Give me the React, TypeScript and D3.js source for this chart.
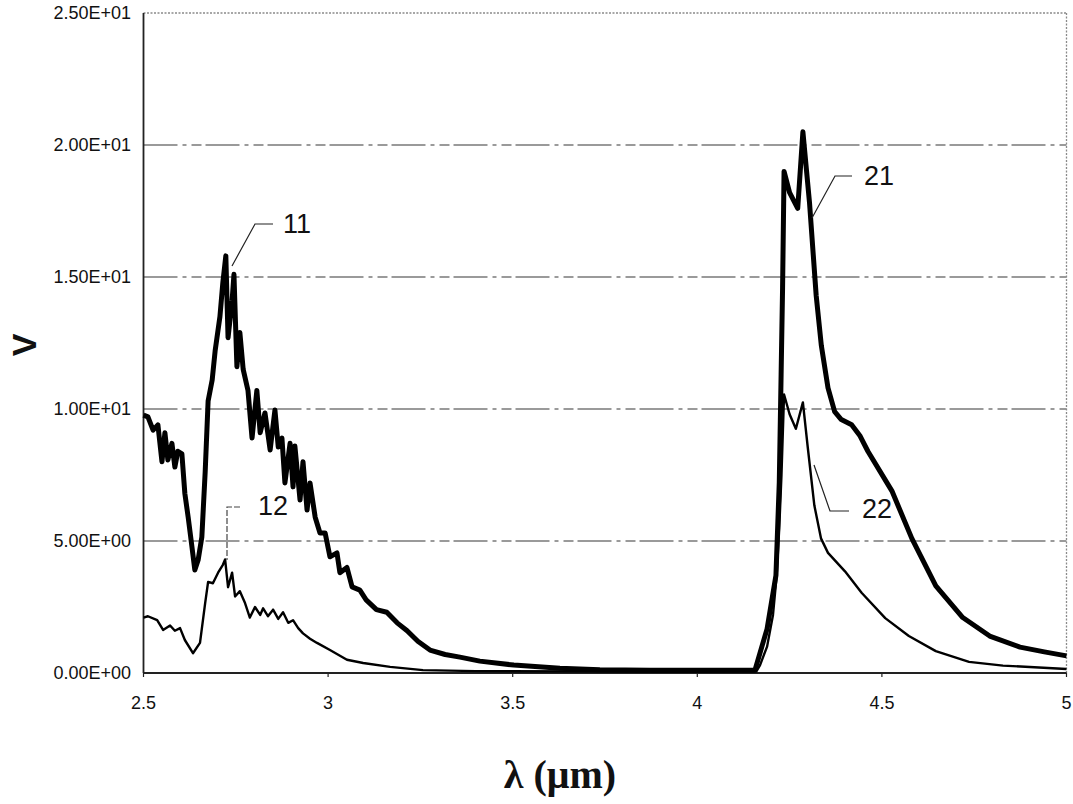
import React from "react";
import * as d3 from "d3";

const W = 1073;
const H = 804;

// thick curve (labels 11 and 21)
const thickX = [
  2.5, 2.512, 2.526, 2.539, 2.55, 2.558, 2.566, 2.577, 2.585, 2.593, 2.604, 2.612, 2.621, 2.631, 2.639,
  2.648, 2.658, 2.667, 2.675, 2.686, 2.694, 2.707, 2.715, 2.723, 2.729, 2.74, 2.745, 2.753, 2.761, 2.77,
  2.783, 2.794, 2.807, 2.816, 2.829, 2.843, 2.856, 2.865, 2.875, 2.883, 2.897, 2.905, 2.91, 2.924, 2.932,
  2.943, 2.951, 2.965, 2.978, 2.992, 3.005, 3.024, 3.032, 3.051, 3.065, 3.086, 3.103, 3.131, 3.159, 3.187,
  3.214, 3.243, 3.276, 3.317, 3.357, 3.411, 3.503, 3.628, 3.736, 3.872, 4.007, 4.156,
  4.189, 4.213, 4.222, 4.227, 4.231, 4.235, 4.25, 4.272, 4.286, 4.304, 4.322, 4.336, 4.354, 4.372, 4.39,
  4.418, 4.44, 4.462, 4.527, 4.581, 4.646, 4.719, 4.792, 4.874, 4.94, 5.0,
];
const thickY = [
  9.77, 9.7, 9.2, 9.4, 8.0, 9.1, 8.07, 8.7, 7.8, 8.4, 8.3, 6.8, 5.9, 4.8, 3.9,
  4.28, 5.15, 7.6, 10.3, 11.1, 12.2, 13.5, 14.8, 15.8, 12.7, 14.1, 15.1, 11.6, 12.9, 11.5,
  10.7, 8.9, 10.7, 9.1, 9.85, 8.45, 9.96, 8.56, 8.9, 7.2, 8.7, 7.05, 8.6, 6.55, 8.0,
  6.17, 7.2, 5.9, 5.3, 5.3, 4.4, 4.55, 3.8, 4.0, 3.26, 3.14, 2.77, 2.4, 2.3, 1.9,
  1.6, 1.2, 0.87, 0.7, 0.6, 0.45, 0.3, 0.18, 0.12, 0.1, 0.1, 0.1,
  1.67, 3.7, 7.2, 11.3, 14.6, 19.0, 18.2, 17.6, 20.5, 17.8, 14.3, 12.4, 10.8, 9.9, 9.6,
  9.4, 9.0, 8.4, 6.9, 5.1, 3.3, 2.1, 1.4, 0.98, 0.8, 0.65,
];

// thin curve (labels 12 and 22)
const thinX = [
  2.5, 2.512, 2.537, 2.553, 2.572, 2.585, 2.599, 2.612, 2.634, 2.653, 2.667, 2.675, 2.688, 2.702, 2.715,
  2.721, 2.729, 2.74, 2.748, 2.761, 2.775, 2.788, 2.802, 2.816, 2.824, 2.837, 2.851, 2.865, 2.878, 2.892,
  2.905, 2.919, 2.932, 2.951, 2.97, 3.005, 3.051, 3.095, 3.168, 3.257, 3.4, 4.0, 4.16,
  4.17, 4.189, 4.205, 4.215, 4.222, 4.228, 4.235, 4.25, 4.267, 4.286, 4.299, 4.317, 4.335, 4.354, 4.4,
  4.445, 4.509, 4.573, 4.646, 4.736, 4.828, 5.0,
];
const thinY = [
  2.1, 2.15, 2.0, 1.63, 1.8, 1.6, 1.7, 1.25, 0.75, 1.14, 2.65, 3.45, 3.4, 3.8, 4.1,
  4.3, 3.25, 3.8, 2.9, 3.1, 2.65, 2.1, 2.5, 2.2, 2.45, 2.15, 2.4, 2.05, 2.3, 1.9,
  2.0, 1.7, 1.5, 1.3, 1.14, 0.87, 0.5, 0.38, 0.23, 0.11, 0.07, 0.05, 0.06,
  0.3, 1.0, 2.2, 3.7, 5.5, 7.5, 10.55, 9.8, 9.25, 10.25, 8.57, 6.35, 5.1, 4.55, 3.85,
  3.04, 2.08, 1.4, 0.83, 0.42, 0.28, 0.15,
];

const xTicks = [2.5, 3, 3.5, 4, 4.5, 5];
const xTickLabels = ["2.5", "3", "3.5", "4", "4.5", "5"];
const yTicks = [0, 5, 10, 15, 20, 25];
const yTickLabels = ["0.00E+00", "5.00E+00", "1.00E+01", "1.50E+01", "2.00E+01", "2.50E+01"];

export default function App() {
  const left = 143.5;
  const right = 1066.5;
  const top = 13;
  const bottom = 673;

  const x = d3.scaleLinear().domain([2.5, 5]).range([left, right]);
  const y = d3.scaleLinear().domain([0, 25]).range([bottom, top]);

  const line = d3
    .line<[number, number]>()
    .x((d) => x(d[0]))
    .y((d) => y(d[1]))
    .curve(d3.curveLinear);

  const thick = thickX.map((v, i) => [v, thickY[i]] as [number, number]);
  const thin = thinX.map((v, i) => [v, thinY[i]] as [number, number]);

  const sans = "'Liberation Sans', Arial, sans-serif";

  return (
    <svg width={W} height={H} style={{ display: "block", position: "absolute", left: 0, top: 0, background: "#fff" }}>
      <rect x={0} y={0} width={W} height={H} fill="#fff" />
      {/* gridlines */}
      {yTicks.slice(1, 5).map((t) => (
        <line
          key={t}
          x1={left}
          x2={right}
          y1={y(t)}
          y2={y(t)}
          stroke="#7a7a7a"
          strokeWidth={1.3}
          strokeDasharray="34 5 4 5 10 4"
        />
      ))}
      {/* top border */}
      <line x1={left} x2={right} y1={y(25)} y2={y(25)} stroke="#8a8a8a" strokeWidth={1.3} strokeDasharray="2 1.5" />
      {/* right border */}
      <line x1={right} x2={right} y1={top} y2={bottom} stroke="#8a8a8a" strokeWidth={1.3} strokeDasharray="2 1.5" />
      {/* left axis */}
      <line x1={left} x2={left} y1={top} y2={bottom} stroke="#222" strokeWidth={1.8} />
      {/* bottom axis */}
      <line x1={left} x2={right} y1={bottom} y2={bottom} stroke="#222" strokeWidth={1.8} />
      {xTicks.map((t) => (
        <line key={t} x1={x(t)} x2={x(t)} y1={bottom} y2={bottom + 4} stroke="#222" strokeWidth={1.2} />
      ))}

      {/* data */}
      <path d={line(thin) || ""} fill="none" stroke="#000" strokeWidth={2.4} strokeLinejoin="round" />
      <path d={line(thick) || ""} fill="none" stroke="#000" strokeWidth={5} strokeLinejoin="round" />

      {/* y tick labels */}
      {yTicks.map((t, i) => (
        <text
          key={t}
          x={131}
          y={y(t)}
          textAnchor="end"
          dominantBaseline="central"
          fontFamily={sans}
          fontSize={18}
          fill="#111"
        >
          {yTickLabels[i]}
        </text>
      ))}
      {/* x tick labels */}
      {xTicks.map((t, i) => (
        <text key={t} x={x(t)} y={709} textAnchor="middle" fontFamily={sans} fontSize={18} fill="#111">
          {xTickLabels[i]}
        </text>
      ))}

      {/* annotations */}
      <polyline points="273,224 255,224 232,266" fill="none" stroke="#222" strokeWidth={1.2} />
      <text x={283} y={233} fontFamily={sans} fontSize={27} fill="#111">11</text>
      <polyline points="240,507 227,507 227,560" fill="none" stroke="#444" strokeWidth={1.2} strokeDasharray="6 2" />
      <text x={258} y={515} fontFamily={sans} fontSize={27} fill="#111">12</text>
      <polyline points="852,176 835,176 812,218" fill="none" stroke="#222" strokeWidth={1.2} />
      <text x={864} y={185} fontFamily={sans} fontSize={27} fill="#111">21</text>
      <polyline points="849,511 830,511 814,465" fill="none" stroke="#222" strokeWidth={1.2} />
      <text x={862} y={518} fontFamily={sans} fontSize={27} fill="#111">22</text>

      {/* axis titles */}
      <text
        transform="translate(24,345) rotate(-90)"
        textAnchor="middle"
        dominantBaseline="central"
        fontFamily={sans}
        fontSize={34}
        fontWeight="bold"
        fill="#111"
      >
        V
      </text>
      <text
        x={560}
        y={788}
        textAnchor="middle"
        fontFamily="'Liberation Serif', 'Times New Roman', serif"
        fontSize={40}
        fontWeight="bold"
        fill="#111"
      >
        λ (μm)
      </text>
    </svg>
  );
}
